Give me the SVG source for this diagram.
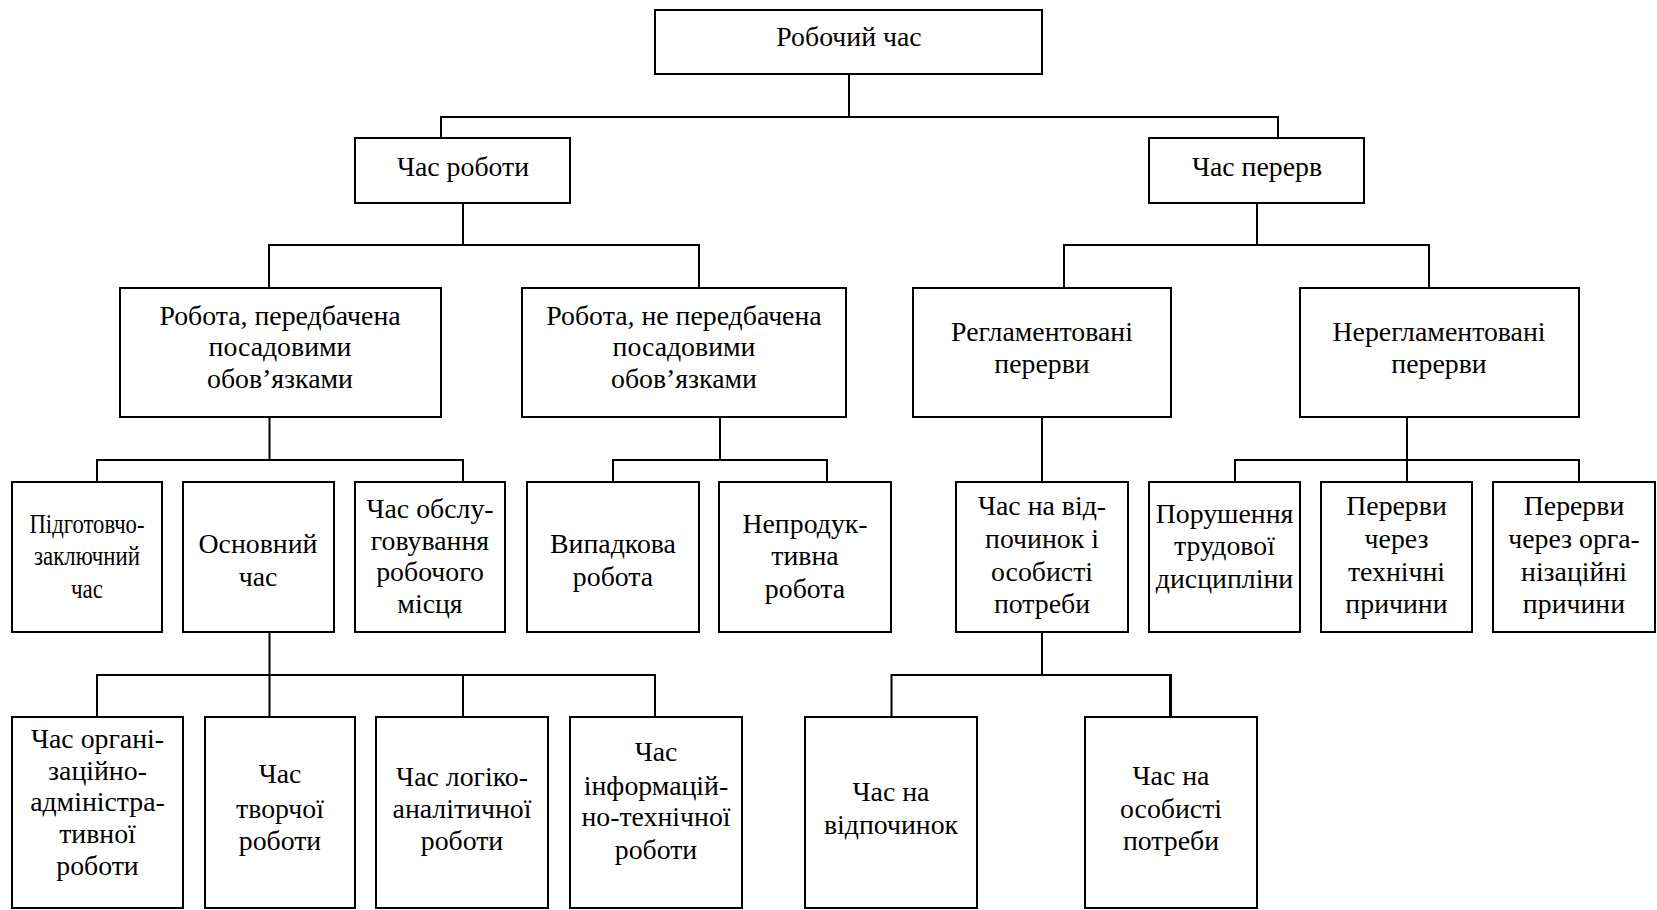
<svg xmlns="http://www.w3.org/2000/svg" width="1657" height="910" viewBox="0 0 1657 910">
<style>
.b{fill:#fff;stroke:#000;stroke-width:2}
.t{font-family:"Liberation Serif","Times New Roman",serif;font-size:27.8px;fill:#000;text-anchor:middle}
.c{fill:none;stroke:#000;stroke-width:2}
</style>
<rect width="1657" height="910" fill="#fff"/>
<g id="connectors">
<path class="c" d="M849 74V117M441 138V117H1278V138"/>
<path class="c" d="M463 203V245M269 288V245H699V288"/>
<path class="c" d="M1257 203V245M1064 288V245H1429V288"/>
<path class="c" d="M269.5 417V460M97 482V460H463V482"/>
<path class="c" d="M720 417V460M613 482V460H827V482"/>
<path class="c" d="M1042 417V482"/>
<path class="c" d="M1407 417V460M1235 482V460H1579V482M1407 460V482"/>
<path class="c" d="M269.5 632V675M97 717V675H655V717M269.5 675V717M463 675V717"/>
<path class="c" d="M1042 632V675M891.5 717V675H1170.5"/>
<path class="c" style="stroke-width:3" d="M1170.5 674V717"/>
</g>
<g id="n-root"><rect class="b" x="655" y="10" width="387" height="64"/><text class="t" x="849" y="46">Робочий час</text></g>
<g id="n-chas-roboty"><rect class="b" x="355" y="138" width="215" height="65"/><text class="t" x="463" y="176">Час роботи</text></g>
<g id="n-chas-pererv"><rect class="b" x="1149" y="138" width="215" height="65"/><text class="t" x="1257" y="176">Час перерв</text></g>
<g id="n-rob-pered"><rect class="b" x="120" y="288" width="321" height="129"/><text class="t"><tspan x="280" y="325">Робота, передбачена</tspan><tspan x="280" y="356">посадовими</tspan><tspan x="280" y="388">обов’язками</tspan></text></g>
<g id="n-rob-ne-pered"><rect class="b" x="522" y="288" width="324" height="129"/><text class="t"><tspan x="684" y="325">Робота, не передбачена</tspan><tspan x="684" y="356">посадовими</tspan><tspan x="684" y="388">обов’язками</tspan></text></g>
<g id="n-regl"><rect class="b" x="913" y="288" width="258" height="129"/><text class="t"><tspan x="1042" y="341">Регламентовані</tspan><tspan x="1042" y="373">перерви</tspan></text></g>
<g id="n-neregl"><rect class="b" x="1300" y="288" width="279" height="129"/><text class="t"><tspan x="1439" y="341">Нерегламентовані</tspan><tspan x="1439" y="373">перерви</tspan></text></g>
<g id="n-pidg"><rect class="b" x="12" y="482" width="150" height="150"/><text class="t"><tspan x="87" y="533" textLength="115" lengthAdjust="spacingAndGlyphs">Підготовчо-</tspan><tspan x="87" y="565" textLength="106" lengthAdjust="spacingAndGlyphs">заключний</tspan><tspan x="87" y="598" textLength="32" lengthAdjust="spacingAndGlyphs">час</tspan></text></g>
<g id="n-osn"><rect class="b" x="183" y="482" width="151" height="150"/><text class="t"><tspan x="258" y="553">Основний</tspan><tspan x="258" y="586">час</tspan></text></g>
<g id="n-obsl"><rect class="b" x="355" y="482" width="150" height="150"/><text class="t"><tspan x="430" y="518">Час обслу-</tspan><tspan x="430" y="550">говування</tspan><tspan x="430" y="581">робочого</tspan><tspan x="430" y="613">місця</tspan></text></g>
<g id="n-vyp"><rect class="b" x="527" y="482" width="172" height="150"/><text class="t"><tspan x="613" y="553">Випадкова</tspan><tspan x="613" y="586">робота</tspan></text></g>
<g id="n-neprod"><rect class="b" x="719" y="482" width="172" height="150"/><text class="t"><tspan x="805" y="533">Непродук-</tspan><tspan x="805" y="565">тивна</tspan><tspan x="805" y="598">робота</tspan></text></g>
<g id="n-vidp-osob"><rect class="b" x="956" y="482" width="172" height="150"/><text class="t"><tspan x="1042" y="515">Час на від-</tspan><tspan x="1042" y="548">починок і</tspan><tspan x="1042" y="581">особисті</tspan><tspan x="1042" y="613">потреби</tspan></text></g>
<g id="n-porush"><rect class="b" x="1149" y="482" width="151" height="150"/><text class="t"><tspan x="1224.5" y="523">Порушення</tspan><tspan x="1224.5" y="555">трудової</tspan><tspan x="1224.5" y="588">дисципліни</tspan></text></g>
<g id="n-tekhn"><rect class="b" x="1321" y="482" width="151" height="150"/><text class="t"><tspan x="1396.5" y="515">Перерви</tspan><tspan x="1396.5" y="548">через</tspan><tspan x="1396.5" y="581">технічні</tspan><tspan x="1396.5" y="613">причини</tspan></text></g>
<g id="n-org"><rect class="b" x="1493" y="482" width="162" height="150"/><text class="t"><tspan x="1574" y="515">Перерви</tspan><tspan x="1574" y="548">через орга-</tspan><tspan x="1574" y="581">нізаційні</tspan><tspan x="1574" y="613">причини</tspan></text></g>
<g id="n-org-adm"><rect class="b" x="12" y="717" width="171" height="191"/><text class="t"><tspan x="97.5" y="748">Час органі-</tspan><tspan x="97.5" y="780">заційно-</tspan><tspan x="97.5" y="811">адміністра-</tspan><tspan x="97.5" y="843">тивної</tspan><tspan x="97.5" y="875">роботи</tspan></text></g>
<g id="n-tvor"><rect class="b" x="205" y="717" width="150" height="191"/><text class="t"><tspan x="280" y="783">Час</tspan><tspan x="280" y="818">творчої</tspan><tspan x="280" y="850">роботи</tspan></text></g>
<g id="n-logik"><rect class="b" x="376" y="717" width="172" height="191"/><text class="t"><tspan x="462" y="786">Час логіко-</tspan><tspan x="462" y="818">аналітичної</tspan><tspan x="462" y="850">роботи</tspan></text></g>
<g id="n-inform"><rect class="b" x="570" y="717" width="172" height="191"/><text class="t"><tspan x="656" y="761">Час</tspan><tspan x="656" y="795">інформацій-</tspan><tspan x="656" y="826">но-технічної</tspan><tspan x="656" y="859">роботи</tspan></text></g>
<g id="n-vidp"><rect class="b" x="805" y="717" width="172" height="191"/><text class="t"><tspan x="891" y="801">Час на</tspan><tspan x="891" y="834">відпочинок</tspan></text></g>
<g id="n-osob"><rect class="b" x="1085" y="717" width="172" height="191"/><text class="t"><tspan x="1171" y="785">Час на</tspan><tspan x="1171" y="818">особисті</tspan><tspan x="1171" y="850">потреби</tspan></text></g>
</svg>
